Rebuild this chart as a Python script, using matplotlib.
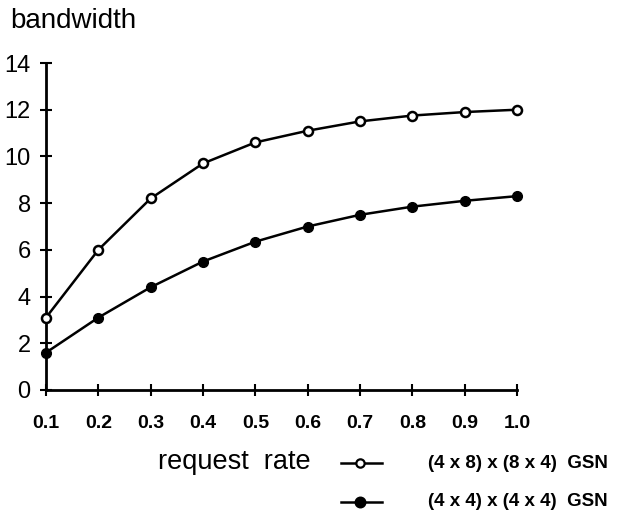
import matplotlib.pyplot as plt
from matplotlib.lines import Line2D

plt.rcParams['font.family'] = ['Liberation Sans', 'DejaVu Sans']

# data
request_rate = [0.1, 0.2, 0.3, 0.4, 0.5, 0.6, 0.7, 0.8, 0.9, 1.0]
bw_4x8_8x4 = [3.1, 6.0, 8.2, 9.7, 10.6, 11.1, 11.5, 11.75, 11.9, 12.0]
bw_4x4_4x4 = [1.6, 3.1, 4.4, 5.5, 6.35, 7.0, 7.5, 7.85, 8.1, 8.3]
x_ticks = [0.1, 0.2, 0.3, 0.4, 0.5, 0.6, 0.7, 0.8, 0.9, 1.0]
y_ticks = [0, 2, 4, 6, 8, 10, 12, 14]
series_labels = ["(4 x 8) x (8 x 4)  GSN", "(4 x 4) x (4 x 4)  GSN"]

W, H = 619, 520
fig = plt.figure(figsize=(W / 100, H / 100), dpi=100)
ax = fig.add_axes([46 / W, 1 - 390 / H, 471 / W, 327 / H])

ax.plot(request_rate, bw_4x8_8x4, color='black', lw=1.8, marker='o', ms=6.5,
        mfc='white', mec='black', mew=1.8, clip_on=False, zorder=3)
ax.plot(request_rate, bw_4x4_4x4, color='black', lw=1.8, marker='o', ms=7,
        mfc='black', mec='black', clip_on=False, zorder=3)

ax.set_xlim(0.1, 1.0)
ax.set_ylim(0, 14)
ax.set_xticks(x_ticks)
ax.set_xticklabels([f"{v:.1f}" for v in x_ticks], fontsize=14, fontweight='bold')
ax.set_yticks(y_ticks)
ax.set_yticklabels([str(v) for v in y_ticks], fontsize=17)
ax.tick_params(axis='both', direction='inout', length=8, width=1.5, color='black')
ax.tick_params(axis='x', pad=14)
ax.tick_params(axis='y', pad=7)
for side in ['top', 'right']:
    ax.spines[side].set_visible(False)
for side in ['left', 'bottom']:
    ax.spines[side].set_linewidth(2)

fig.text(10 / W, 1 - 21 / H, "bandwidth", fontsize=20, va='center', ha='left')
fig.text(158 / W, 1 - 462 / H, "request  rate", fontsize=19.5, va='center', ha='left')

# legend entries drawn by hand
leg_y = [1 - 463 / H, 1 - 502 / H]
for i, (lab, y) in enumerate(zip(series_labels, leg_y)):
    fill = 'white' if i == 0 else 'black'
    fig.add_artist(Line2D([341 / W, 382 / W], [y, y], color='black', lw=1.8,
                          transform=fig.transFigure))
    fig.add_artist(Line2D([360 / W], [y], marker='o', ms=6 if i == 0 else 7,
                          mfc=fill, mec='black', mew=1.6, transform=fig.transFigure))
    fig.text(428 / W, y, lab, fontsize=13.5, fontweight='bold', va='center', ha='left')

fig.savefig("out.png", dpi=100)
